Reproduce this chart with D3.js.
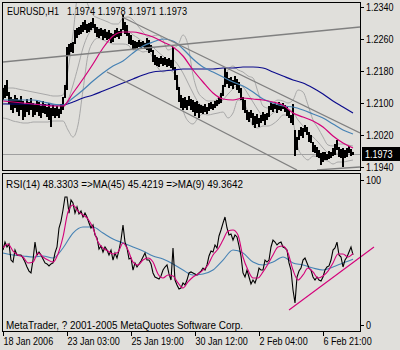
<!DOCTYPE html>
<html><head><meta charset="utf-8">
<script src="https://cdn.jsdelivr.net/npm/d3@7/dist/d3.min.js"></script>
<style>
html,body{margin:0;padding:0;background:#e0dfdb;}
svg{display:block;}
text{font-family:"Liberation Sans",Arial,sans-serif;font-size:11px;fill:#000;}
</style></head><body>
<svg id="chart" width="400" height="350"></svg>
<script>
// EURUSD H1 – price bars sampled every 2 bars (bar index = 2*k)
const symbolLabel = "EURUSD,H1";
const lastOHLC = [1.1974, 1.1978, 1.1971, 1.1973];

const barHigh = [
1.21375,1.21450,1.21575,1.21275,1.21150,1.21100,1.21200,1.21125,1.21075,1.21175,
1.21050,1.20975,1.21100,1.21025,1.21125,1.21000,1.20950,1.21075,1.21025,1.20925,
1.21050,1.20975,1.20900,1.21000,1.20875,1.20950,1.20875,1.20925,1.20850,1.20975,
1.21150,1.21450,1.22400,1.22475,1.22500,1.22525,1.22825,1.22875,1.22900,1.22950,
1.23025,1.23075,1.22975,1.23000,1.23025,1.23125,1.22975,1.22900,1.22850,1.22875,
1.22825,1.22850,1.22775,1.22825,1.22750,1.22725,1.22825,1.22875,1.22800,1.22850,
1.23200,1.23025,1.22950,1.22750,1.22700,1.22575,1.22550,1.22525,1.22575,1.22525,
1.22550,1.22500,1.22625,1.22575,1.22450,1.22325,1.22200,1.22150,1.22125,1.22175,
1.22125,1.22150,1.22100,1.22125,1.22075,1.22400,1.21900,1.21700,1.21400,1.21200,
1.21125,1.21150,1.21075,1.21175,1.21100,1.21075,1.21025,1.21050,1.20975,1.20950,
1.20925,1.20975,1.20900,1.21000,1.21025,1.20975,1.21050,1.21075,1.21150,1.21250,
1.21450,1.21875,1.21775,1.21625,1.21650,1.21575,1.21675,1.21600,1.21525,1.21375,
1.21150,1.21075,1.20825,1.20775,1.20825,1.20750,1.20675,1.20725,1.20625,1.20700,
1.20775,1.20725,1.20750,1.20925,1.21025,1.20975,1.21000,1.20950,1.21025,1.20975,
1.21000,1.20950,1.20900,1.20825,1.20700,1.20975,1.20325,1.20150,1.20325,1.20400,
1.20375,1.20450,1.20400,1.20275,1.20200,1.20025,1.19950,1.19900,1.19825,1.19750,
1.19775,1.19775,1.19725,1.19800,1.19775,1.19875,1.19975,1.20075,1.19900,1.19850,
1.19875,1.19825,1.19875,1.19925,1.19850,1.1978];

const barLow = [
1.21075,1.21125,1.21175,1.20975,1.20825,1.20750,1.20875,1.20775,1.20675,1.20825,
1.20575,1.20650,1.20775,1.20700,1.20825,1.20650,1.20700,1.20775,1.20675,1.20625,
1.20750,1.20725,1.20650,1.20575,1.20400,1.20675,1.20625,1.20675,1.20625,1.20725,
1.20825,1.21125,1.21325,1.22200,1.22275,1.22250,1.22475,1.22625,1.22700,1.22725,
1.22775,1.22825,1.22750,1.22775,1.22825,1.22875,1.22750,1.22650,1.22625,1.22675,
1.22575,1.22625,1.22575,1.22600,1.22500,1.22525,1.22625,1.22650,1.22600,1.22675,
1.22825,1.22725,1.22675,1.22475,1.22450,1.22325,1.22350,1.22375,1.22400,1.22375,
1.22400,1.22350,1.22325,1.22250,1.22275,1.22025,1.21950,1.21925,1.21900,1.21975,
1.21925,1.21950,1.21900,1.21925,1.21875,1.21825,1.21575,1.21325,1.21025,1.20875,
1.20825,1.20875,1.20825,1.20925,1.20825,1.20775,1.20675,1.20750,1.20625,1.20750,
1.20725,1.20775,1.20725,1.20800,1.20850,1.20825,1.20875,1.20925,1.20975,1.21000,
1.21175,1.21400,1.21475,1.21375,1.21425,1.21350,1.21450,1.21325,1.21250,1.21075,
1.20825,1.20750,1.20575,1.20525,1.20625,1.20450,1.20375,1.20475,1.20400,1.20500,
1.20550,1.20450,1.20575,1.20650,1.20825,1.20775,1.20850,1.20750,1.20825,1.20800,
1.20850,1.20775,1.20675,1.20625,1.20500,1.20450,1.19675,1.19825,1.20075,1.20175,
1.20125,1.20275,1.20200,1.20025,1.20000,1.19775,1.19750,1.19650,1.19625,1.19450,
1.19525,1.19575,1.19575,1.19600,1.19625,1.19675,1.19700,1.19825,1.19650,1.19625,
1.19400,1.19625,1.19650,1.19750,1.19675,1.1971];

// Moving averages on price, one value every 10 bars
const maFast = [
1.21050,1.21025,1.21000,1.20975,1.20950,1.20925,1.20925,1.21250,1.21600,1.21975,
1.22375,1.22675,1.22775,1.22775,1.22725,1.22650,1.22525,1.22400,1.22175,1.21825,
1.21525,1.21250,1.21100,1.21075,1.21125,1.21100,1.21075,1.21025,1.20950,1.20750,
1.20650,1.20550,1.20400,1.20175,1.20000,1.19875];
const maMid = [
1.21075,1.21075,1.21075,1.21075,1.21025,1.20975,1.20950,1.21125,1.21325,1.21550,
1.21750,1.21925,1.22050,1.22250,1.22425,1.22525,1.22600,1.22550,1.22350,1.22100,
1.21900,1.21775,1.21650,1.21525,1.21425,1.21275,1.21100,1.21000,1.20925,1.20900,
1.20825,1.20725,1.20625,1.20475,1.20325,1.20225];
const maSlow = [
1.20975,1.20975,1.20975,1.20975,1.20950,1.20950,1.20950,1.21025,1.21125,1.21200,
1.21300,1.21400,1.21500,1.21600,1.21700,1.21775,1.21800,1.21825,1.21850,1.21850,
1.21850,1.21850,1.21875,1.21875,1.21900,1.21900,1.21875,1.21775,1.21675,1.21575,
1.21500,1.21375,1.21225,1.21050,1.20900,1.20750];

// Bollinger bands, one value every 5 bars
const bbUpper = [
1.21375,1.21375,1.21375,1.21350,1.21325,1.21300,1.21275,1.21250,1.21225,1.21200,
1.21175,1.21175,1.21200,1.21825,1.22725,1.23700,1.23775,1.23450,1.23200,1.23125,
1.23075,1.23025,1.22975,1.22975,1.23125,1.23150,1.23075,1.22925,1.22775,1.22650,
1.22675,1.22700,1.22575,1.22325,1.22375,1.22450,1.22700,1.22450,1.21700,1.21275,
1.21125,1.21050,1.21050,1.21125,1.21375,1.21825,1.21925,1.21825,1.21775,1.21675,
1.21625,1.21275,1.20925,1.20875,1.21000,1.21075,1.21050,1.21000,1.21075,1.21325,
1.21275,1.20950,1.20575,1.20375,1.20150,1.19950,1.19925,1.19975,1.19975,1.19950,
1.19925];
const bbMiddle = [
1.21000,1.20975,1.20950,1.20925,1.20900,1.20875,1.20875,1.20875,1.20875,1.20850,
1.20850,1.20850,1.20875,1.21075,1.21450,1.21900,1.22375,1.22700,1.22850,1.22875,
1.22825,1.22775,1.22725,1.22725,1.22800,1.22800,1.22700,1.22625,1.22525,1.22475,
1.22400,1.22275,1.22175,1.22075,1.22075,1.21950,1.21750,1.21500,1.21250,1.21025,
1.20925,1.20875,1.20900,1.20950,1.21075,1.21225,1.21350,1.21450,1.21400,1.21225,
1.21025,1.20825,1.20675,1.20650,1.20750,1.20825,1.20875,1.20850,1.20775,1.20575,
1.20425,1.20250,1.20150,1.20025,1.19875,1.19750,1.19700,1.19750,1.19750,1.19750,
1.19775];
const bbLower = [
1.20625,1.20600,1.20550,1.20525,1.20500,1.20500,1.20525,1.20525,1.20525,1.20525,
1.20550,1.20550,1.20550,1.20325,1.20150,1.20450,1.21325,1.22200,1.22525,1.22625,
1.22575,1.22525,1.22475,1.22475,1.22475,1.22450,1.22325,1.22325,1.22275,1.22300,
1.22125,1.21875,1.21775,1.21825,1.21775,1.21450,1.20825,1.20550,1.20475,1.20625,
1.20725,1.20700,1.20725,1.20750,1.20775,1.20625,1.20750,1.21075,1.21025,1.20775,
1.20425,1.20375,1.20425,1.20425,1.20475,1.20575,1.20700,1.20700,1.20525,1.19875,
1.19675,1.19575,1.19675,1.19650,1.19575,1.19550,1.19475,1.19525,1.19525,1.19550,
1.19575];

// Trend lines: [bar, price] pairs
const trendA = [[0, 1.22025], [357, 1.22900]];
const trendB = [[119, 1.23150], [357, 1.20250]];
const trendC = [[104, 1.21775], [294, 1.19325]];
const trendD = [[314, 1.19325], [357, 1.19400]];

// RSI(14), every 2 bars
const rsi = [
51.7,57.2,53.8,55.9,44.8,43.4,51.7,48.3,48.3,48.3,
46.2,43.4,40.0,37.2,35.9,44.8,57.2,48.3,50.3,48.3,
45.5,42.8,42.1,40.7,42.1,42.8,49.7,53.8,66.9,71.7,
79.3,88.3,88.3,77.2,86.2,84.1,77.2,81.4,76.6,78.6,
74.5,77.2,74.5,70.3,66.9,69.0,62.1,60.0,52.4,54.5,
50.3,53.8,51.7,48.3,51.7,44.8,49.7,46.2,51.7,58.6,
69.0,57.2,53.1,45.5,46.2,37.9,42.8,40.0,42.1,44.1,
46.9,49.7,44.8,44.8,42.1,35.9,33.1,32.4,31.7,33.8,
37.9,40.0,41.4,35.2,31.0,53.1,31.0,27.6,24.8,25.5,
29.0,27.6,31.0,35.9,36.6,35.9,35.2,34.5,35.9,37.2,
39.3,37.9,41.4,47.6,51.0,50.3,55.2,53.1,61.4,65.5,
70.3,74.5,66.9,62.1,62.8,58.6,62.1,60.7,54.5,47.6,
35.9,33.1,37.9,33.1,28.3,31.0,29.0,33.1,39.3,37.9,
37.9,44.8,43.4,44.8,53.8,58.6,57.2,55.2,56.6,57.2,
53.8,53.1,51.7,42.8,37.9,24.1,15.2,33.1,37.2,39.3,
44.8,46.2,42.8,39.3,37.9,33.1,31.0,33.1,31.0,30.3,
33.1,37.9,40.0,40.7,44.8,51.7,53.1,57.2,48.3,46.9,
40.0,44.8,46.9,50.3,53.8,48.3303];
// MA(9) of RSI, every 5 bars
const rsiMa9 = [
53.1,55.9,51.0,48.3,46.9,42.8,43.4,49.7,46.9,44.8,
43.4,49.0,60.7,77.9,82.8,78.6,75.9,73.1,66.9,57.2,
53.1,51.0,49.0,50.3,56.6,51.7,43.4,41.4,44.8,46.2,
43.4,35.2,32.4,34.5,33.8,29.0,25.5,29.7,33.1,35.2,
37.9,41.4,48.3,52.4,58.6,64.8,65.5,62.1,46.9,37.9,
32.4,32.4,36.6,42.1,48.3,53.8,54.5,49.7,37.9,31.0,
34.5,39.3,36.6,32.4,33.8,37.2,42.8,49.0,49.0,46.9,
49.3642];
// MA(45) of RSI, every 10 bars
const rsiMa45 = [
49.7,48.3,47.6,46.9,47.6,46.2,53.1,63.4,67.6,67.6,
63.4,59.3,56.6,53.8,51.0,47.6,45.5,42.1,37.9,34.5,
35.2,37.9,44.8,51.7,49.7,43.4,41.4,43.4,46.9,42.8,
41.4,39.3,37.9,40.0,42.8,45.4219];
const rsiTrend = [[286, 10.3], [371, 53.8]];

const priceTicks = [1.2340, 1.2260, 1.2180, 1.2100, 1.2020, 1.1940];
const rsiTicks = [100, 0];
const timeTickBars = [0, 64, 128, 192, 256, 320];
const timeTickLabels = ["18 Jan 2006", "23 Jan 03:00", "25 Jan 19:00", "30 Jan 12:00", "2 Feb 04:00", "6 Feb 21:00"];
const copyright = "MetaTrader, ? 2001-2005 MetaQuotes Software Corp.";

const C = {
  frame: "#000000", bars: "#000000", bands: "#a8a8a8", trend: "#808080", bid: "#a0a0a0",
  fast: "#d4007a", mid: "#4682b4", slow: "#0c0c8c"
};

const svg = d3.select("#chart");
const x = d3.scaleLinear().domain([0, 357]).range([3, 360]);
const yP = d3.scaleLinear().domain([1.1940, 1.2340]).range([167, 7]);
const yR = d3.scaleLinear().domain([0, 100]).range([325, 180]);

const defs = svg.append("defs");
defs.append("clipPath").attr("id", "clip-main").append("rect")
  .attr("x", 3).attr("y", 3).attr("width", 357).attr("height", 167);
defs.append("clipPath").attr("id", "clip-rsi").append("rect")
  .attr("x", 3).attr("y", 175).attr("width", 357).attr("height", 156);

const series = (arr, step, ys) => d3.line()
  .x((d, i) => x(i * step)).y(d => ys(d)).curve(d3.curveMonotoneX)(arr);
const seg = (pts, ys) => d3.line().x(d => x(d[0])).y(d => ys(d[1]))(pts);

// ---- price window ----
const main = svg.append("g").attr("clip-path", "url(#clip-main)");
const close = lastOHLC[3];
main.append("line").attr("x1", 3).attr("x2", 360)
  .attr("y1", Math.round(yP(close)) + 0.5).attr("y2", Math.round(yP(close)) + 0.5)
  .attr("stroke", C.bid).attr("stroke-width", 1);

[bbUpper, bbMiddle, bbLower].forEach(a => main.append("path")
  .attr("d", series(a, 5, yP)).attr("fill", "none")
  .attr("stroke", C.bands).attr("stroke-width", 1));

// each sample covers two hourly bars: one 2px column from low to high
main.selectAll("rect.bar").data(barHigh).join("rect").attr("class", "bar")
  .attr("x", (d, i) => Math.round(x(i * 2)) - 1).attr("width", 2)
  .attr("y", d => Math.round(yP(d)))
  .attr("height", (d, i) => Math.max(1, Math.round(yP(barLow[i])) - Math.round(yP(d))))
  .attr("fill", C.bars).attr("shape-rendering", "crispEdges");

[[maSlow, C.slow], [maMid, C.mid], [maFast, C.fast]].forEach(([a, c]) => main.append("path")
  .attr("d", series(a, 10, yP)).attr("fill", "none")
  .attr("stroke", c).attr("stroke-width", 1.2));

[trendA, trendB, trendC, trendD].forEach(t => main.append("path")
  .attr("d", seg(t, yP)).attr("fill", "none")
  .attr("stroke", C.trend).attr("stroke-width", 1.3));

// ---- RSI window ----
const sub = svg.append("g").attr("clip-path", "url(#clip-rsi)");
sub.append("path").attr("d", series(rsiMa45, 10, yR)).attr("fill", "none")
  .attr("stroke", C.mid).attr("stroke-width", 1.1);
sub.append("path").attr("d", d3.line().x((d, i) => x(i * 2)).y(d => yR(d))(rsi))
  .attr("fill", "none").attr("stroke", "#000").attr("stroke-width", 1.1);
sub.append("path").attr("d", series(rsiMa9, 5, yR)).attr("fill", "none")
  .attr("stroke", C.fast).attr("stroke-width", 1.1);
svg.append("path").attr("d", seg(rsiTrend, yR)).attr("fill", "none")
  .attr("stroke", C.fast).attr("stroke-width", 1.1);

// ---- frames ----
svg.append("rect").attr("x", 2.5).attr("y", 2.5).attr("width", 358).attr("height", 168)
  .attr("fill", "none").attr("stroke", C.frame);
svg.append("rect").attr("x", 2.5).attr("y", 173.5).attr("width", 358).attr("height", 158)
  .attr("fill", "none").attr("stroke", C.frame);

// ---- axes ----
const pAxis = svg.append("g").attr("transform", "translate(361,0)")
  .call(d3.axisRight(yP).tickValues(priceTicks).tickFormat(d3.format(".4f")).tickSize(3).tickPadding(2));
const rAxis = svg.append("g").attr("transform", "translate(361,0)")
  .call(d3.axisRight(yR).tickValues(rsiTicks).tickFormat(d3.format("d")).tickSize(3).tickPadding(2));
const tAxis = svg.append("g").attr("transform", "translate(0,332)")
  .call(d3.axisBottom(x).tickValues(timeTickBars).tickFormat((d, i) => timeTickLabels[i]).tickSize(4));
[pAxis, rAxis, tAxis].forEach(g => {
  g.attr("font-family", null).attr("font-size", null);
  g.select(".domain").remove();
  g.selectAll(".tick line").attr("stroke", "#000");
});
tAxis.selectAll(".tick text").attr("text-anchor", "start").attr("y", 13).attr("dy", 0).attr("x", 0);

// current price marker
const cy = Math.round(yP(close));
svg.append("rect").attr("x", 362).attr("y", cy - 7).attr("width", 38).attr("height", 14).attr("fill", "#000");
svg.append("text").attr("class", "cur").attr("x", 365).attr("y", cy + 4).style("fill", "#fff")
  .text(d3.format(".4f")(close));

// ---- captions ----
svg.append("text").attr("x", 7).attr("y", 15).text(symbolLabel);
svg.append("text").attr("x", 67).attr("y", 15).text(lastOHLC.map(d3.format(".4f")).join(" "))
  .attr("data-w", 120);
svg.append("text").attr("x", 6).attr("y", 188)
  .text(`RSI(14) ${rsi[rsi.length - 1].toFixed(4)} =>MA(45) ${rsiMa45[rsiMa45.length - 1].toFixed(4)} =>MA(9) ${rsiMa9[rsiMa9.length - 1].toFixed(4)}`)
  .attr("data-w", 237);
svg.append("text").attr("x", 6).attr("y", 329).text(copyright).attr("data-w", 237);

// narrow the glyphs to the compact terminal look
svg.selectAll("text").each(function () {
  const el = d3.select(this);
  const target = el.attr("data-w");
  const w = target ? +target : this.getComputedTextLength() * 0.82;
  el.attr("textLength", w).attr("lengthAdjust", "spacingAndGlyphs");
});
</script>
</body></html>
